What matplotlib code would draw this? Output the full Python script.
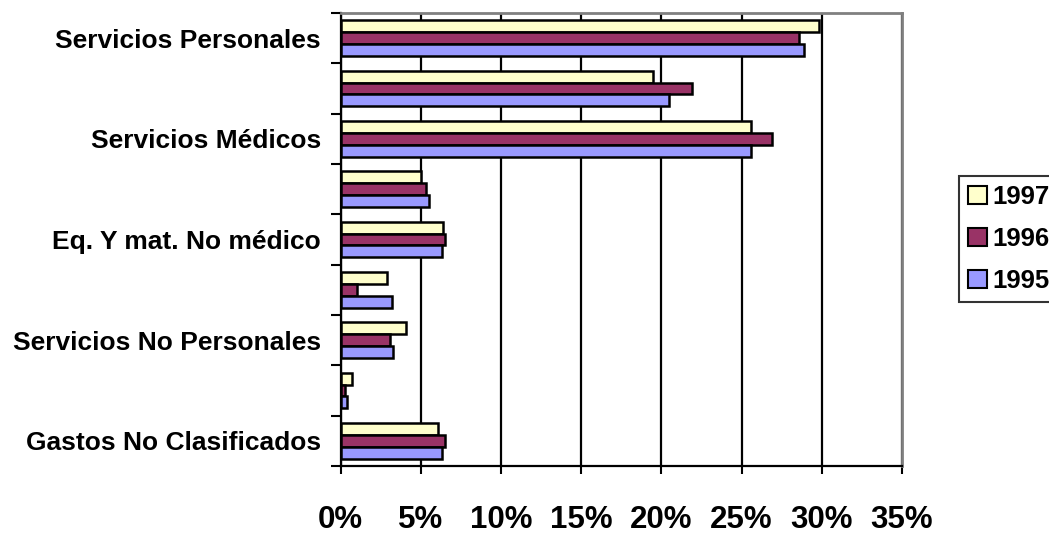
import numpy as np
import matplotlib
matplotlib.use("Agg")
import matplotlib.pyplot as plt
from matplotlib.ticker import FuncFormatter, FixedLocator
from matplotlib.patches import Patch

plt.rcParams['font.family'] = ['Liberation Sans', 'DejaVu Sans']
plt.rcParams['font.weight'] = 'bold'

# rubros, de arriba hacia abajo (solo uno de cada dos lleva rotulo)
rubros = ["Servicios Personales", "", "Servicios Médicos", "",
          "Eq. Y mat. No médico", "", "Servicios No Personales", "",
          "Gastos No Clasificados"]

# participacion porcentual por año
p1997 = [29.8, 19.5, 25.6, 5.0, 6.4, 2.9, 4.1, 0.7, 6.1]
p1996 = [28.6, 21.9, 26.9, 5.3, 6.5, 1.0, 3.1, 0.3, 6.5]
p1995 = [28.9, 20.5, 25.6, 5.5, 6.3, 3.2, 3.3, 0.4, 6.3]

anios = ["1997", "1996", "1995"]
colores = ["#FFFFCC", "#993366", "#9999FF"]

fig = plt.figure(figsize=(10.49, 5.35), dpi=100)
ax = fig.add_axes([340.5 / 1049, 1 - 466 / 535, (902 - 340.5) / 1049, (466 - 13) / 535])

y = np.arange(len(rubros))
alto = 0.235
for k, (serie, color) in enumerate(zip([p1997, p1996, p1995], colores)):
    ax.barh(y + (k - 1) * alto, serie, height=alto, color=color,
            edgecolor="black", linewidth=1.8, zorder=3)

ax.set_xlim(0, 35)
ax.set_ylim(len(rubros) - 0.5, -0.5)
ax.set_xticks(np.arange(0, 36, 5))
ax.xaxis.set_major_formatter(FuncFormatter(lambda v, pos: "%d%%" % v))
ax.grid(axis="x", color="black", linewidth=1.6)
ax.set_axisbelow(True)

# marcas en los limites de cada rubro, rotulos en el centro
ax.yaxis.set_major_locator(FixedLocator(np.arange(-0.5, len(rubros), 1)))
ax.yaxis.set_major_formatter(FuncFormatter(lambda v, pos: ""))
ax.yaxis.set_minor_locator(FixedLocator(y[::2]))
ax.set_yticklabels([rubros[i] for i in y[::2]], minor=True)
ax.tick_params(axis="y", which="major", length=7.5, width=1.5, direction="out")
ax.tick_params(axis="y", which="minor", length=0, pad=14, labelsize=19)
ax.tick_params(axis="x", length=6, width=1.5, direction="out", pad=22, labelsize=22.5)

for lado in ["left", "bottom"]:
    ax.spines[lado].set_color("black")
    ax.spines[lado].set_linewidth(1.6)
for lado in ["top", "right"]:
    ax.spines[lado].set_color("#808080")
    ax.spines[lado].set_linewidth(2)

manejadores = [Patch(facecolor=c, edgecolor="black", linewidth=1.5) for c in colores]
leg = fig.legend(manejadores, anios, loc="upper left",
                 bbox_to_anchor=(959 / 1049, 1 - 176 / 535),
                 prop={"size": 18.5, "weight": "bold"},
                 handlelength=0.75, handleheight=0.75, handletextpad=0.2,
                 labelspacing=0.7, borderpad=0.35, borderaxespad=0,
                 fancybox=False, frameon=True)
leg.get_frame().set_edgecolor("black")
leg.get_frame().set_linewidth(1.5)

fig.savefig("out.png", dpi=100)
